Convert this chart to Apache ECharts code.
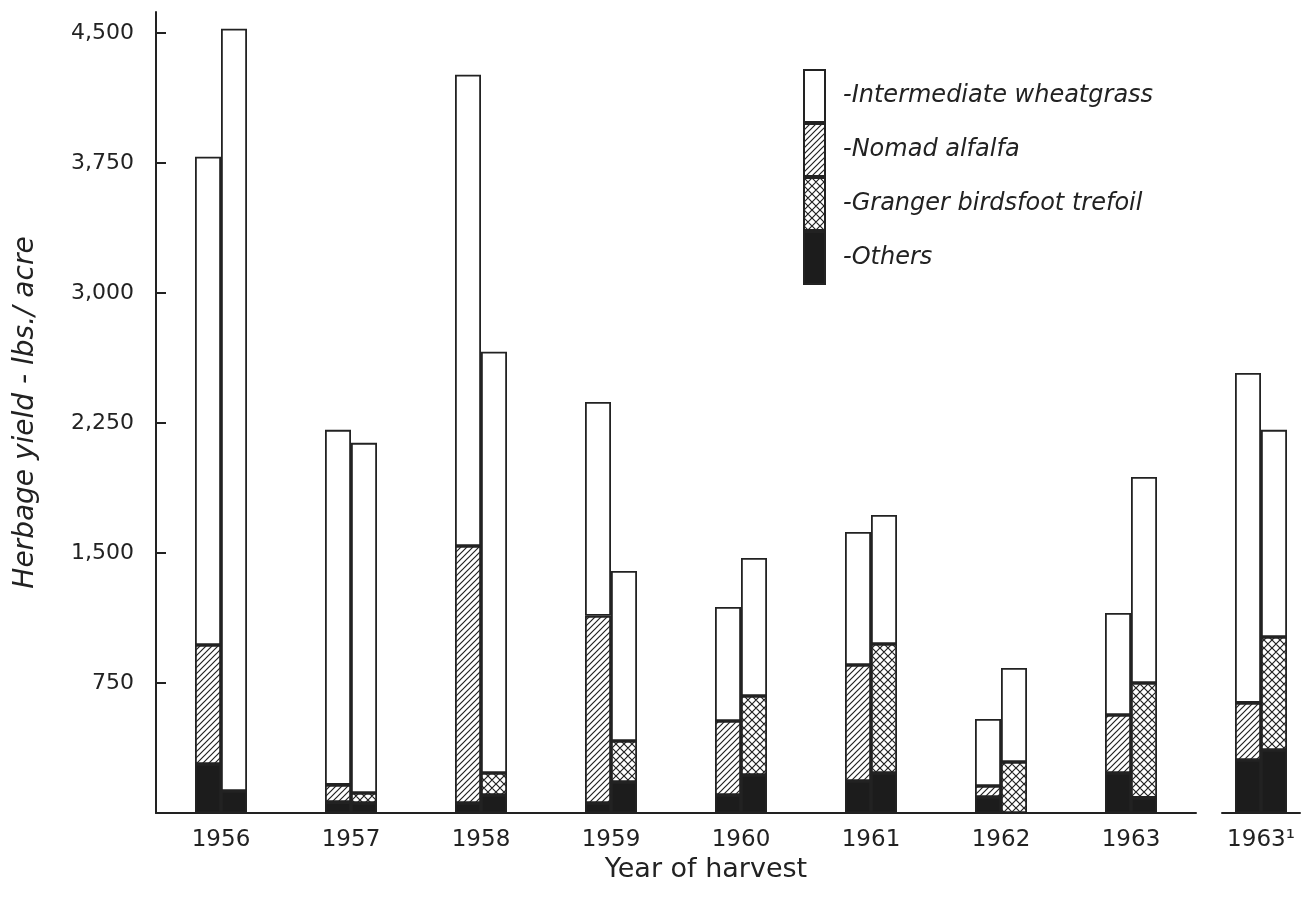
<!DOCTYPE html>
<html>
<head>
<meta charset="utf-8">
<script src="https://cdn.jsdelivr.net/npm/echarts@6/dist/echarts.min.js"></script>
<style>
html,body{margin:0;padding:0;background:#fff;}
#chart{width:1302px;height:910px;}
</style>
</head>
<body>
<div id="chart"></div>
<script>
// ---- data (lbs./acre) ----
const years   = ['1956','1957','1958','1959','1960','1961','1962','1963','1963\u00B9'];
// left bar of each pair: alfalfa mixture
const othersA = [283, 63, 58, 58, 104, 185, 92, 231, 306];
const nomad   = [686, 99, 1482, 1079, 427, 669, 64, 334, 329];
const wheatA  = [2816, 2048, 2718, 1234, 657, 767, 386, 589, 1903];
// right bar of each pair: trefoil mixture
const othersB = [127, 58, 104, 179, 219, 231, 0, 87, 363];
const granger = [0, 57, 127, 236, 456, 744, 294, 663, 652];
const wheatB  = [4396, 2020, 2429, 981, 796, 744, 543, 1188, 1195];
const yTicks  = [750, 1500, 2250, 3000, 3750, 4500];

const INK = '#222';
function makePattern(size, cross) {
  const c = document.createElement('canvas');
  c.width = size; c.height = size;
  const g = c.getContext('2d');
  g.fillStyle = '#fff'; g.fillRect(0, 0, size, size);
  g.strokeStyle = INK; g.lineWidth = 1.2;
  g.beginPath();
  g.moveTo(0, size); g.lineTo(size, 0);
  g.moveTo(-size / 2, size / 2); g.lineTo(size / 2, -size / 2);
  g.moveTo(size / 2, size * 1.5); g.lineTo(size * 1.5, size / 2);
  if (cross) {
    g.moveTo(0, 0); g.lineTo(size, size);
    g.moveTo(-size / 2, size / 2); g.lineTo(size / 2, size * 1.5);
    g.moveTo(size / 2, -size / 2); g.lineTo(size * 1.5, size / 2);
  }
  g.stroke();
  return c;
}
const hatch = { image: makePattern(6, false), repeat: 'repeat' };
const cross = { image: makePattern(8, true), repeat: 'repeat' };

const N1 = 8; // groups on first baseline
const fmt = v => String(v).replace(/\B(?=(\d{3})+(?!\d))/g, ',');

function bar(name, data, stack, color, gi) {
  return {
    type: 'bar', name: name, stack: stack,
    xAxisIndex: gi, yAxisIndex: gi,
    data: gi === 0 ? data.slice(0, N1) : data.slice(N1),
    barWidth: 26, barGap: '0%',
    itemStyle: { color: color, borderColor: INK, borderWidth: 1.8 },
    emphasis: { disabled: true }
  };
}
const series = [];
[0, 1].forEach(gi => {
  series.push(bar('Others', othersA, 'A' + gi, '#1c1c1c', gi));
  series.push(bar('Nomad alfalfa', nomad, 'A' + gi, hatch, gi));
  series.push(bar('Intermediate wheatgrass', wheatA, 'A' + gi, '#fff', gi));
  series.push(bar('Others', othersB, 'B' + gi, '#1c1c1c', gi));
  series.push(bar('Granger birdsfoot trefoil', granger, 'B' + gi, cross, gi));
  series.push(bar('Intermediate wheatgrass', wheatB, 'B' + gi, '#fff', gi));
});

const FONT = 'DejaVu Sans';
const xAxisBase = {
  type: 'category',
  axisLine: { lineStyle: { color: INK, width: 2 } },
  axisTick: { show: false },
  axisLabel: { color: INK, fontSize: 23, fontFamily: FONT, margin: 16 }
};

const chart = echarts.init(document.getElementById('chart'));
chart.setOption({
  animation: false,
  backgroundColor: '#fff',
  grid: [
    { left: 156, width: 1040, top: 12, bottom: 97 },
    { left: 1222, width: 78, top: 12, bottom: 97 }
  ],
  legend: {
    data: ['Intermediate wheatgrass', 'Nomad alfalfa', 'Granger birdsfoot trefoil', 'Others'],
    orient: 'vertical', left: 798, top: 64,
    itemWidth: 21, itemHeight: 52, itemGap: 0, icon: 'rect',
    formatter: n => '-' + n,
    textStyle: { color: INK, fontSize: 24, fontStyle: 'italic', fontFamily: FONT, padding: [0, 0, 0, 13] }
  },
  xAxis: [
    Object.assign({}, xAxisBase, {
      gridIndex: 0, data: years.slice(0, N1),
      name: 'Year of harvest', nameLocation: 'middle', nameGap: 43,
      nameTextStyle: { color: INK, fontSize: 27, fontFamily: FONT, padding: [0, 0, 0, 60] }
    }),
    Object.assign({}, xAxisBase, { gridIndex: 1, data: years.slice(N1) })
  ],
  yAxis: [
    {
      type: 'value', gridIndex: 0, min: 0, max: 4620,
      axisLine: { show: true, lineStyle: { color: INK, width: 2 } },
      axisTick: { show: true, inside: true, length: 10, customValues: yTicks, lineStyle: { color: INK, width: 2 } },
      axisLabel: { color: INK, fontSize: 22, fontFamily: FONT, margin: 22, customValues: yTicks, formatter: fmt },
      splitLine: { show: false },
      name: 'Herbage yield - lbs./ acre', nameLocation: 'middle', nameGap: 116,
      nameTextStyle: { color: INK, fontSize: 28, fontStyle: 'italic', fontFamily: FONT }
    },
    { type: 'value', gridIndex: 1, min: 0, max: 4620, show: false }
  ],
  series: series
});
</script>
</body>
</html>
